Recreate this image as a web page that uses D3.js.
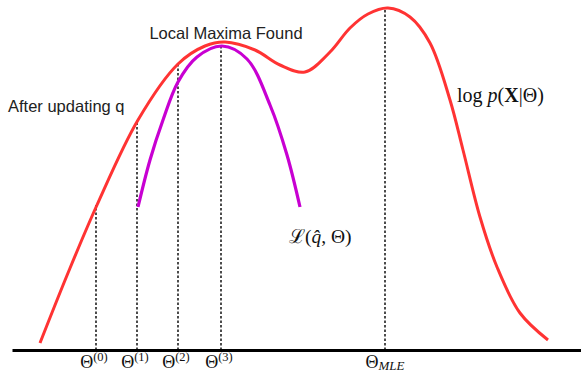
<!DOCTYPE html>
<html>
<head>
<meta charset="utf-8">
<script src="https://cdn.jsdelivr.net/npm/d3@7"></script>
<style>
  body { margin: 0; background: #fff; }
  svg { display: block; }
  .sans { font-family: "Liberation Sans", Arial, sans-serif; fill: #222; }
  .serif { font-family: "Liberation Serif", "DejaVu Serif", serif; fill: #111; }
</style>
</head>
<body>
<div id="viz"></div>
<script>
// log-likelihood curve log p(X|Theta)
const logpTheta = [3.0, 5.8, 8.7, 12.8, 16.8, 19.5, 21.5, 24.5, 27.0, 29.5, 32.0, 34.0, 35.8, 37.8, 40.0, 42.0, 44.0, 45.3, 47.0, 48.7, 51.0, 53.8];
const logpValue = [0.7, 7.7, 14.5, 23.0, 28.6, 30.4, 30.8, 30.0, 28.5, 27.8, 29.8, 32.2, 33.6, 34.2, 33.3, 30.7, 25.0, 20.0, 13.3, 8.3, 3.7, 1.0];

// lower bound L(q, Theta) after updating q
const lowerTheta = [12.8, 14.0, 15.3, 16.8, 18.7, 21.2, 23.7, 26.0, 27.7, 29.0];
const lowerValue = [14.3, 19.0, 23.0, 26.8, 29.3, 30.4, 29.1, 24.5, 19.5, 14.3];

// EM iterates and MLE
const stepTheta = [8.6, 12.7, 16.8, 21.1, 37.5];
const stepValue = [14.5, 23.0, 28.6, 30.6, 34.2];
const stepSup = ["(0)", "(1)", "(2)", "(3)", null];
const stepSub = [null, null, null, null, "MLE"];

const W = 581, H = 373;

const svg = d3.select("#viz").append("svg").attr("width", W).attr("height", H);

const x = d3.scaleLinear().domain([0.2, 57.1]).range([12, 581]);
const y = d3.scaleLinear().domain([0, 35]).range([350, 0]);

const line = d3.line()
    .x(d => x(d[0]))
    .y(d => y(d[1]))
    .curve(d3.curveCatmullRom.alpha(0.5));

// dashed guides
svg.selectAll(".guide")
    .data(stepTheta)
    .join("line")
    .attr("class", "guide")
    .attr("x1", d => x(d)).attr("x2", d => x(d))
    .attr("y1", y(0))
    .attr("y2", (d, i) => y(stepValue[i]))
    .attr("stroke", "#000")
    .attr("stroke-width", 1.4)
    .attr("stroke-dasharray", "2.5,2");

// curves
svg.append("path")
    .datum(d3.zip(logpTheta, logpValue))
    .attr("d", line)
    .attr("fill", "none")
    .attr("stroke", "#ff3333")
    .attr("stroke-width", 3);

svg.append("path")
    .datum(d3.zip(lowerTheta, lowerValue))
    .attr("d", line)
    .attr("fill", "none")
    .attr("stroke", "#c800d2")
    .attr("stroke-width", 3.2);

// baseline axis
const axis = svg.append("g")
    .attr("transform", `translate(0,${y(0)})`)
    .call(d3.axisBottom(x).tickValues([]).tickSizeOuter(0));
axis.select(".domain").attr("stroke", "#000").attr("stroke-width", 3);

// theta labels
const labs = svg.selectAll(".tlab")
    .data(stepTheta)
    .join("text")
    .attr("class", "tlab serif")
    .attr("x", (d, i) => x(d) - (stepSub[i] ? 0 : 2))
    .attr("y", 368)
    .attr("text-anchor", "middle")
    .style("font-size", "18px");
labs.append("tspan").text("Θ");
labs.filter((d, i) => stepSup[i])
    .append("tspan")
    .attr("dy", -7)
    .style("font-size", "12.5px")
    .text(d => stepSup[stepTheta.indexOf(d)]);
labs.filter((d, i) => stepSub[i])
    .append("tspan")
    .attr("dy", 2)
    .style("font-size", "13px")
    .style("font-style", "italic")
    .text(d => stepSub[stepTheta.indexOf(d)]);

// annotations
svg.append("text").attr("class", "sans")
    .attr("x", 226).attr("y", 39)
    .attr("text-anchor", "middle")
    .style("font-size", "16.5px")
    .text("Local Maxima Found");

svg.append("text").attr("class", "sans")
    .attr("x", 8).attr("y", 112)
    .style("font-size", "16.5px")
    .text("After updating q");

const lp = svg.append("text").attr("class", "serif")
    .attr("x", 457).attr("y", 102)
    .style("font-size", "20px");
lp.append("tspan").text("log ");
lp.append("tspan").style("font-style", "italic").text("p");
lp.append("tspan").text("(");
lp.append("tspan").style("font-weight", "bold").text("X");
lp.append("tspan").text("|Θ)");

const lb = svg.append("text").attr("class", "serif")
    .attr("x", 289).attr("y", 243)
    .style("font-size", "19.5px");
lb.append("tspan").text("ℒ");
lb.append("tspan").text("(");
lb.append("tspan").style("font-style", "italic").text("q̂");
lb.append("tspan").text(", Θ)");
</script>
</body>
</html>
